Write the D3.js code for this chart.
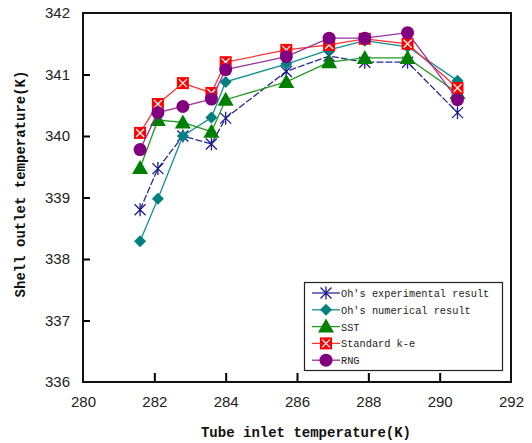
<!DOCTYPE html>
<html><head><meta charset="utf-8">
<script src="https://cdn.jsdelivr.net/npm/d3@7"></script>
<style>body{margin:0;background:#fff}svg{display:block}</style>
</head><body>
<script>
const xValues = [281.6, 282.1, 282.8, 283.6, 284.0, 285.7, 286.9, 287.9, 289.1, 290.5];
const expResult = [338.8, 339.47, 340.0, 339.87, 340.29, 341.05, 341.3, 341.2, 341.2, 340.38];
const numResult = [338.29, 338.98, 340.0, 340.3, 340.88, 341.17, 341.4, 341.55, 341.45, 340.9];
const sst = [339.48, 340.26, 340.22, 340.07, 340.59, 340.88, 341.2, 341.27, 341.27, 340.7];
const standardKe = [340.05, 340.52, 340.86, 340.7, 341.2, 341.4, 341.48, 341.58, 341.5, 340.78];
const rng = [339.78, 340.38, 340.48, 340.6, 341.08, 341.29, 341.59, 341.59, 341.68, 340.59];
const seriesNames = ["Oh's experimental result", "Oh's numerical result", "SST", "Standard k-e", "RNG"];
const xTicks = [280, 282, 284, 286, 288, 290, 292];
const yTicks = [336, 337, 338, 339, 340, 341, 342];

const W = 532, H = 443;
const svg = d3.select("body").append("svg").attr("width", W).attr("height", H);
const x = d3.scaleLinear().domain([280, 292]).range([83, 511]);
const y = d3.scaleLinear().domain([336, 342]).range([382, 13]);

const series = [
  {name: seriesNames[0], vals: expResult, color: "#1c1c8e", line: "#2a2a9a", marker: "star", dash: "7,2"},
  {name: seriesNames[1], vals: numResult, color: "#008080", line: "#139090", marker: "diamond", dash: null},
  {name: seriesNames[2], vals: sst, color: "#008000", line: "#229922", marker: "triangle", dash: null},
  {name: seriesNames[3], vals: standardKe, color: "#ff0000", line: "#ff3030", marker: "squarex", dash: null},
  {name: seriesNames[4], vals: rng, color: "#800080", line: "#9a309a", marker: "circle", dash: null}
];

// axes
const gx = svg.append("g").attr("transform", `translate(0,${y(336)})`)
  .call(d3.axisBottom(x).tickValues(xTicks).tickSize(-9).tickPadding(14).tickFormat(d3.format("d")));
const gy = svg.append("g").attr("transform", `translate(${x(280)},0)`)
  .call(d3.axisLeft(y).tickValues(yTicks).tickSize(-7).tickPadding(13).tickFormat(d3.format("d")));
[gx, gy].forEach(g => {
  g.select(".domain").remove();
  g.selectAll(".tick line").attr("stroke", "#000").attr("stroke-width", 2);
  g.selectAll(".tick text").attr("font-family", "Liberation Sans, Arial, sans-serif").attr("font-size", 15).attr("fill", "#222");
});
gx.selectAll(".tick").filter(d => d === 280 || d === 292).select("line").remove();
gy.selectAll(".tick").filter(d => d === 336 || d === 342).select("line").remove();

// frame
svg.append("rect").attr("x", x(280)).attr("y", y(342)).attr("width", x(292) - x(280)).attr("height", y(336) - y(342))
  .attr("fill", "none").attr("stroke", "#111").attr("stroke-width", 2);

function drawMarker(g, type, color, cx, cy) {
  if (type === "star") {
    const s = 5.5;
    g.append("path").attr("d", `M${cx - s},${cy - s}L${cx + s},${cy + s}M${cx - s},${cy + s}L${cx + s},${cy - s}M${cx},${cy - s - 1}L${cx},${cy + s + 1}`)
      .attr("stroke", color).attr("stroke-width", 1.3).attr("fill", "none");
  } else if (type === "diamond") {
    const s = 6;
    g.append("path").attr("d", `M${cx},${cy - s}L${cx + s},${cy}L${cx},${cy + s}L${cx - s},${cy}Z`).attr("fill", color);
  } else if (type === "triangle") {
    const s = 8;
    g.append("path").attr("d", `M${cx},${cy - s}L${cx + s},${cy + s * 0.75}L${cx - s},${cy + s * 0.75}Z`).attr("fill", color);
  } else if (type === "squarex") {
    const s = 6;
    g.append("rect").attr("x", cx - s).attr("y", cy - s).attr("width", 2 * s).attr("height", 2 * s).attr("fill", color);
    const t = 4;
    g.append("path").attr("d", `M${cx - t},${cy - t}L${cx + t},${cy + t}M${cx - t},${cy + t}L${cx + t},${cy - t}`)
      .attr("stroke", "#fff").attr("stroke-width", 1.3);
  } else if (type === "circle") {
    g.append("circle").attr("cx", cx).attr("cy", cy).attr("r", 6.5).attr("fill", color);
  }
}

const line = d3.line().x(d => x(d[0])).y(d => y(d[1]));
series.forEach(s => {
  const g = svg.append("g");
  const pts = xValues.map((xv, i) => [xv, s.vals[i]]);
  g.append("path").attr("d", line(pts)).attr("fill", "none").attr("stroke", s.line).attr("stroke-width", 1.3)
    .attr("stroke-dasharray", s.dash);
  pts.forEach(p => drawMarker(g, s.marker, s.color, x(p[0]), y(p[1])));
});

// legend
const lg = svg.append("g");
lg.append("rect").attr("x", 304.5).attr("y", 282.5).attr("width", 198).attr("height", 88)
  .attr("fill", "#fff").attr("stroke", "#222").attr("stroke-width", 1.2);
series.forEach((s, i) => {
  const ly = 293 + i * 16.8;
  lg.append("line").attr("x1", 312).attr("x2", 340).attr("y1", ly).attr("y2", ly).attr("stroke", s.line).attr("stroke-width", 1.3);
  drawMarker(lg, s.marker, s.color, 326, ly);
  lg.append("text").attr("x", 341).attr("y", ly + 4).text(s.name)
    .attr("font-family", "Liberation Mono, DejaVu Sans Mono, monospace").attr("font-size", 10.3).attr("fill", "#222");
});

// axis titles
svg.append("text").attr("x", 306).attr("y", 437).attr("text-anchor", "middle").text("Tube inlet temperature(K)")
  .attr("font-family", "Liberation Mono, monospace").attr("font-weight", "bold").attr("font-size", 14).attr("fill", "#111");
svg.append("text").attr("transform", "translate(25,184) rotate(-90)").attr("text-anchor", "middle").text("Shell outlet temperature(K)")
  .attr("font-family", "Liberation Mono, monospace").attr("font-weight", "bold").attr("font-size", 14).attr("fill", "#111");
</script>
</body></html>
